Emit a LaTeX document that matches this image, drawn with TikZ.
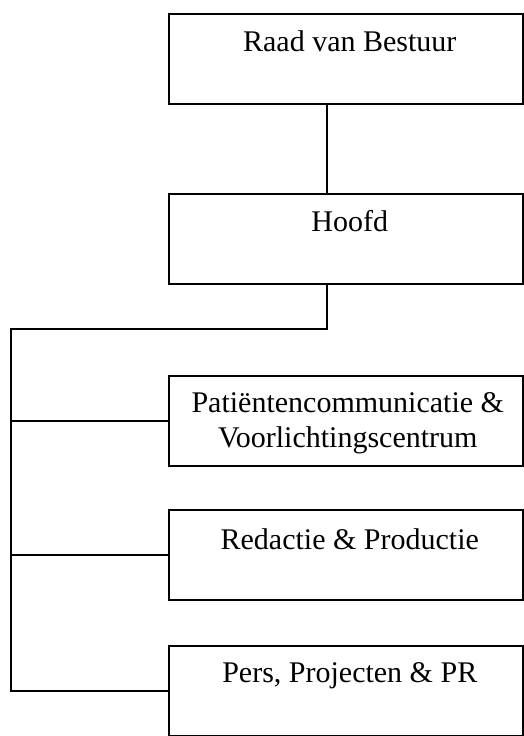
\documentclass[tikz,border=0pt]{standalone}
\usepackage{fontspec}
\setmainfont{Liberation Serif}
\begin{document}
\begin{tikzpicture}[x=1pt,y=1pt,
  box/.style={draw,line width=1.5pt,minimum width=354pt,minimum height=90pt,inner sep=0pt,anchor=north west},
  lbl/.style={inner sep=0pt,anchor=base,align=center,font=\fontsize{30}{35}\selectfont},
  conn/.style={line width=1.5pt}]
\useasboundingbox (0,0) rectangle (523,-736);
\node[box,label={[lbl,xshift=4pt,yshift=-38pt]north:Raad van Bestuur}] (b1) at (168,-13) {};
\node[box,label={[lbl,xshift=4pt,yshift=-38pt]north:Hoofd}] (b2) at (168,-193) {};
\node[box,label={[lbl,xshift=2pt,yshift=-72pt]north:Patiëntencommunicatie \&\\Voorlichtingscentrum}] (b3) at (168,-375) {};
\node[box,label={[lbl,xshift=4pt,yshift=-40pt]north:Redactie \& Productie}] (b4) at (168,-509) {};
\node[box,label={[lbl,xshift=4pt,yshift=-37pt]north:Pers, Projecten \& PR}] (b5) at (168,-645) {};
\coordinate (cx) at (327,0);
\coordinate (j1) at (327,-329);
\coordinate (j2) at (11,-329);
\coordinate (j3) at (11,-690);
\draw[conn] (b1.south -| cx) -- (b2.north -| cx);
\draw[conn] (b2.south -| cx) -- (j1) -- (j2) -- (j3 |- b5.west) -- (b5.west);
\draw[conn] (j2 |- b3.west) -- (b3.west);
\draw[conn] (j2 |- b4.west) -- (b4.west);
\end{tikzpicture}
\end{document}
